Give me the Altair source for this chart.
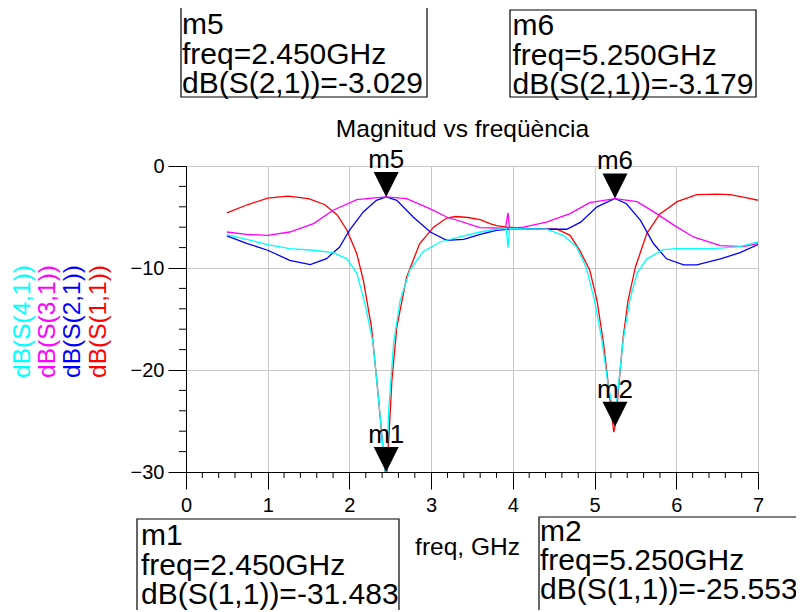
import altair as alt
import pandas as pd

# ---------------- data ----------------
s11_freq = [0.5, 0.75, 1.0, 1.25, 1.5, 1.7, 1.85, 1.97, 2.09, 2.17, 2.27, 2.35, 2.42, 2.45,
            2.48, 2.52, 2.58, 2.70, 2.86, 3.03, 3.19, 3.30, 3.45, 3.60, 3.72, 3.80, 3.93,
            4.21, 4.54, 4.70, 4.82, 4.94, 5.03, 5.11, 5.19, 5.235, 5.25, 5.28, 5.35, 5.41,
            5.50, 5.64, 5.80, 6.01, 6.25, 6.50, 6.66, 6.85, 7.0]
s11_db = [-4.6, -3.8, -3.15, -2.95, -3.2, -3.8, -4.8, -6.3, -8.6, -11.2, -15.8, -22.3, -28.5, -31.483,
          -27.0, -21.0, -15.8, -10.9, -7.6, -6.0, -5.1, -4.95, -5.05, -5.26, -5.65, -5.85, -6.0,
          -6.14, -6.2, -6.8, -8.3, -10.2, -13.2, -17.4, -23.0, -26.1, -25.553, -23.0, -16.8, -13.2,
          -9.9, -6.6, -4.7, -3.5, -2.8, -2.75, -2.8, -3.1, -3.36]

s21_freq = [0.5, 0.75, 1.0, 1.27, 1.52, 1.72, 1.88, 2.0, 2.17, 2.33, 2.45, 2.58, 2.78, 2.99,
            3.19, 3.40, 3.60, 3.80, 4.01, 4.41, 4.66, 4.83, 5.03, 5.25, 5.39, 5.56, 5.72,
            5.88, 6.09, 6.25, 6.54, 6.78, 7.0]
s21_db = [-6.86, -7.6, -8.26, -9.25, -9.67, -9.08, -7.94, -6.3, -4.5, -3.36, -3.029, -3.36, -5.0, -6.47,
          -7.28, -7.2, -6.7, -6.3, -6.14, -6.2, -6.2, -5.5, -4.0, -3.179, -3.7, -5.3, -7.6,
          -9.1, -9.7, -9.7, -9.1, -8.5, -7.7]

s31_freq = [0.5, 0.74, 1.0, 1.27, 1.56, 1.80, 2.09, 2.45, 2.70, 2.99, 3.19, 3.60, 3.91, 3.94,
            3.96, 4.13, 4.41, 4.70, 4.94, 5.25, 5.52, 5.76, 5.97, 6.21, 6.54, 6.82, 7.0]
s31_db = [-6.47, -6.7, -6.8, -6.47, -5.65, -4.34, -3.3, -3.03, -3.2, -4.2, -5.0, -6.04, -6.1, -4.6,
          -6.1, -6.0, -5.5, -4.67, -3.6, -3.2, -3.5, -4.67, -5.8, -6.96, -7.8, -7.9, -7.6]

s41_freq = [0.5, 1.0, 1.27, 1.56, 1.80, 1.97, 2.09, 2.19, 2.29, 2.37, 2.45, 2.48, 2.54, 2.62,
            2.74, 2.90, 3.11, 3.35, 3.60, 3.80, 3.92, 3.94, 3.96, 4.41, 4.62, 4.78, 4.90,
            5.0, 5.09, 5.17, 5.25, 5.29, 5.35, 5.43, 5.52, 5.64, 5.84, 6.0, 6.45, 6.78, 7.0]
s41_db = [-6.73, -7.7, -8.1, -8.26, -8.5, -9.1, -10.5, -13.5, -17.4, -24.0, -31.2, -24.0, -17.4, -13.2,
          -10.2, -8.4, -7.45, -6.96, -6.47, -6.2, -6.14, -8.0, -6.14, -6.2, -6.8, -7.94, -10.0,
          -13.2, -17.1, -21.7, -24.6, -21.7, -17.1, -13.2, -10.5, -9.1, -8.2, -8.1, -8.1, -7.9, -7.45]

trace_names = ["dB(S(1,1))", "dB(S(2,1))", "dB(S(3,1))", "dB(S(4,1))"]
trace_colors = ["#ff0000", "#0000ff", "#ff00ff", "#00ffff"]
trace_freqs = [s11_freq, s21_freq, s31_freq, s41_freq]
trace_dbs = [s11_db, s21_db, s31_db, s41_db]

marker_names = ["m5", "m6", "m1", "m2"]
marker_freq = [2.450, 5.250, 2.450, 5.250]
marker_db = [-3.029, -3.179, -31.483, -25.553]
marker_param = ["S(2,1)", "S(2,1)", "S(1,1)", "S(1,1)"]

x_major = [0, 1, 2, 3, 4, 5, 6, 7]
y_major = [-30, -20, -10, 0]
x_minor = [round(i * 0.2, 1) for i in range(36) if i % 5 != 0]
y_minor = [v for v in range(-30, 1, 2) if v % 10 != 0]

title_text = "Magnitud vs freqüència"
x_title = "freq, GHz"

# ---------------- layout / style ----------------
FONT = "Liberation Sans"
W, H = 572, 306
xs = alt.Scale(domain=[0, 7], nice=False, zero=False)
ys = alt.Scale(domain=[-30, 0], nice=False, zero=False)

x_axis = alt.Axis(values=x_major, title=None, grid=True, gridColor="#c8c8c8", gridWidth=1,
                  domainColor="black", tickColor="black", tickSize=17, tickWidth=1,
                  labelFont=FONT, labelFontSize=20, labelColor="black", labelPadding=6,
                  labelFlush=False, labelOverlap=False, format="d")
y_axis = alt.Axis(values=y_major, title=None, grid=True, gridColor="#c8c8c8", gridWidth=1,
                  domainColor="black", tickColor="black", tickSize=18, tickWidth=1,
                  labelFont=FONT, labelFontSize=20, labelColor="black", labelPadding=4,
                  labelFlush=False, labelOverlap=False, format="d")

X = alt.X("freq:Q", scale=xs, axis=x_axis)
Y = alt.Y("db:Q", scale=ys, axis=y_axis)
YC = alt.Y("dbc:Q", scale=ys, axis=y_axis)

layers = []

# minor ticks
layers.append(alt.Chart(pd.DataFrame({"freq": x_minor})).mark_rule(color="black", strokeWidth=1)
              .encode(x=X, y=alt.value(H), y2=alt.value(H + 6)))
layers.append(alt.Chart(pd.DataFrame({"db": y_minor})).mark_rule(color="black", strokeWidth=1)
              .encode(y=Y, x=alt.value(-7), x2=alt.value(0)))

# traces
for name, fs, ds, col in zip(trace_names, trace_freqs, trace_dbs, trace_colors):
    d = pd.DataFrame({"freq": fs, "db": ds, "trace": name})
    layers.append(alt.Chart(d).mark_line(clip=True, strokeWidth=1.3, color=col).encode(x=X, y=Y))

# markers
mk = pd.DataFrame({"name": marker_names, "freq": marker_freq, "db": marker_db, "param": marker_param})
tri = (alt.Chart(mk).transform_calculate(dbc="max(datum.db, -30)")
       .mark_point(shape="M-1,-2L1,-2L0,0Z", size=625, filled=True, color="black", opacity=1, strokeWidth=0)
       .encode(x=X, y=YC))
lbl = (alt.Chart(mk).transform_calculate(dbc="max(datum.db, -30)")
       .mark_text(dy=-29, fontSize=26, font=FONT, color="black", align="center", baseline="alphabetic")
       .encode(x=X, y=YC, text="name:N"))
layers += [tri, lbl]

one = pd.DataFrame({"k": [0]})

# marker readout boxes: (x0, x1, y0, y1, text_x, first_baseline, line_height)
box_pos = {
    "m5": (-5, 241, -159, -69, -4, -132, 29.5),
    "m6": (324, 570, -156, -69, 326.5, -131, 29.5),
    "m1": (-49, 213, 353, 470, -45, 379, 29.5),
    "m2": (353, 640, 351, 470, 354, 375, 29),
}
for n, f, dbv, p in zip(marker_names, marker_freq, marker_db, marker_param):
    x0, x1, y0, y1, tx, ty, lh = box_pos[n]
    layers.append(alt.Chart(one).mark_rect(fillOpacity=0, stroke="black", strokeWidth=1.2)
                  .encode(x=alt.value(x0), x2=alt.value(x1), y=alt.value(y0), y2=alt.value(y1)))
    lines = [n, f"freq={f:.3f}GHz", f"dB({p})={dbv:.3f}"]
    layers.append(alt.Chart(one).mark_text(fontSize=30, font=FONT, color="black", align="left",
                                           baseline="alphabetic", lineHeight=lh)
                  .encode(x=alt.value(tx), y=alt.value(ty), text=alt.value(lines)))

# chart title and x title
layers.append(alt.Chart(one).mark_text(fontSize=24.5, font=FONT, color="black", align="center",
                                       baseline="alphabetic")
              .encode(x=alt.value(276.5), y=alt.value(-29), text=alt.value(title_text)))
layers.append(alt.Chart(one).mark_text(fontSize=24.5, font=FONT, color="black", align="center",
                                       baseline="alphabetic")
              .encode(x=alt.value(281.5), y=alt.value(389), text=alt.value(x_title)))

# rotated coloured y titles
ytitle_x = {"dB(S(4,1))": -163.5, "dB(S(3,1))": -138.5, "dB(S(2,1))": -113.5, "dB(S(1,1))": -87.5}
for name, col in zip(trace_names, trace_colors):
    layers.append(alt.Chart(one).mark_text(fontSize=24.5, font=FONT, color=col, angle=270,
                                           align="center", baseline="middle")
                  .encode(x=alt.value(ytitle_x[name]), y=alt.value(155.5), text=alt.value(name)))

chart = (alt.layer(*layers)
         .properties(width=W, height=H, autosize=alt.AutoSizeParams(type="none"),
                     padding={"left": 178, "top": 158, "right": 38, "bottom": 138},
                     background="white")
         .configure_view(stroke="black", strokeWidth=1))

chart.save("out.html", embed_options={"renderer": "svg", "actions": False})
